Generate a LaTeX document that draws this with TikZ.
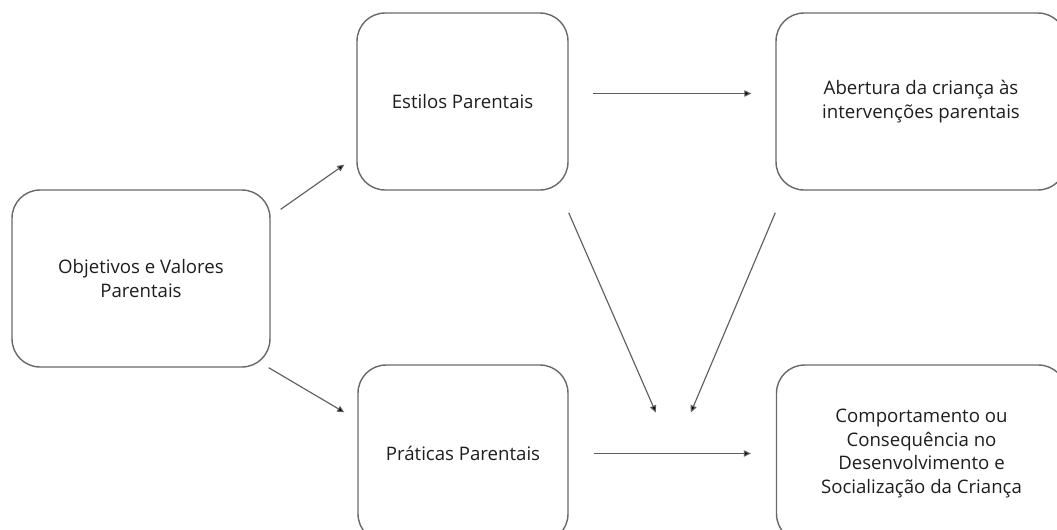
\documentclass[tikz,border=0pt]{standalone}
\usepackage{fontspec}
\setmainfont{Open Sans}
\usetikzlibrary{arrows.meta,calc}

\definecolor{boxline}{RGB}{105,105,105}
\definecolor{arrline}{RGB}{95,95,95}
\definecolor{txt}{RGB}{30,30,30}

\begin{document}
\begin{tikzpicture}[x=0.02cm, y=-0.02cm,
		box/.style={draw=boxline, line width=0.8pt, rounded corners=0.56cm,
			minimum height=3.54cm, align=center, text=txt,
			font=\fontsize{10.6}{13.3}\selectfont},
		arr/.style={draw=arrline, line width=0.65pt,
			-{Triangle[length=4pt,width=3.6pt,fill=black]}}]
		\clip (0,0) rectangle (1057,530);
		\fill[white] (0,0) rectangle (1057,530);
		
		% caixas
		\node[box, minimum width=5.16cm] (obj) at (141,278.5) {Objetivos e Valores\\Parentais};
		\node[box, minimum width=4.22cm] (est) at (462.5,101.5) {Estilos Parentais};
		\node[box, minimum width=5.8cm] (abe) at (921,101.5) {Abertura da criança às\\intervenções parentais};
		\node[box, minimum width=4.2cm] (pra) at (463,453.5) {Práticas Parentais};
		\node[box, minimum width=5.8cm] (com) at (921.5,453.5) {Comportamento ou\\Consequência no\\Desenvolvimento e\\Socialização da Criança};
		
		% setas
		\draw[arr] ($(obj.north east)+(10,20)$) -- ($(est.south west)+(-12,-26)$);
		\draw[arr] ($(obj.south east)+(-2,0)$) -- ($(pra.north west)+(-13,48)$);
		\draw[arr] ($(est.east)+(24,-8)$) -- ($(abe.west)+(-24,-8)$);
		\draw[arr] ($(pra.east)+(25,0)$) -- ($(com.west)+(-25,0)$);
		\draw[arr] ($(est.south east)+(0,22)$) -- ($(com.west)+(-120,-41)$);
		\draw[arr] ($(abe.south west)+(0,22)$) -- ($(com.west)+(-85,-41)$);
	\end{tikzpicture}
\end{document}
